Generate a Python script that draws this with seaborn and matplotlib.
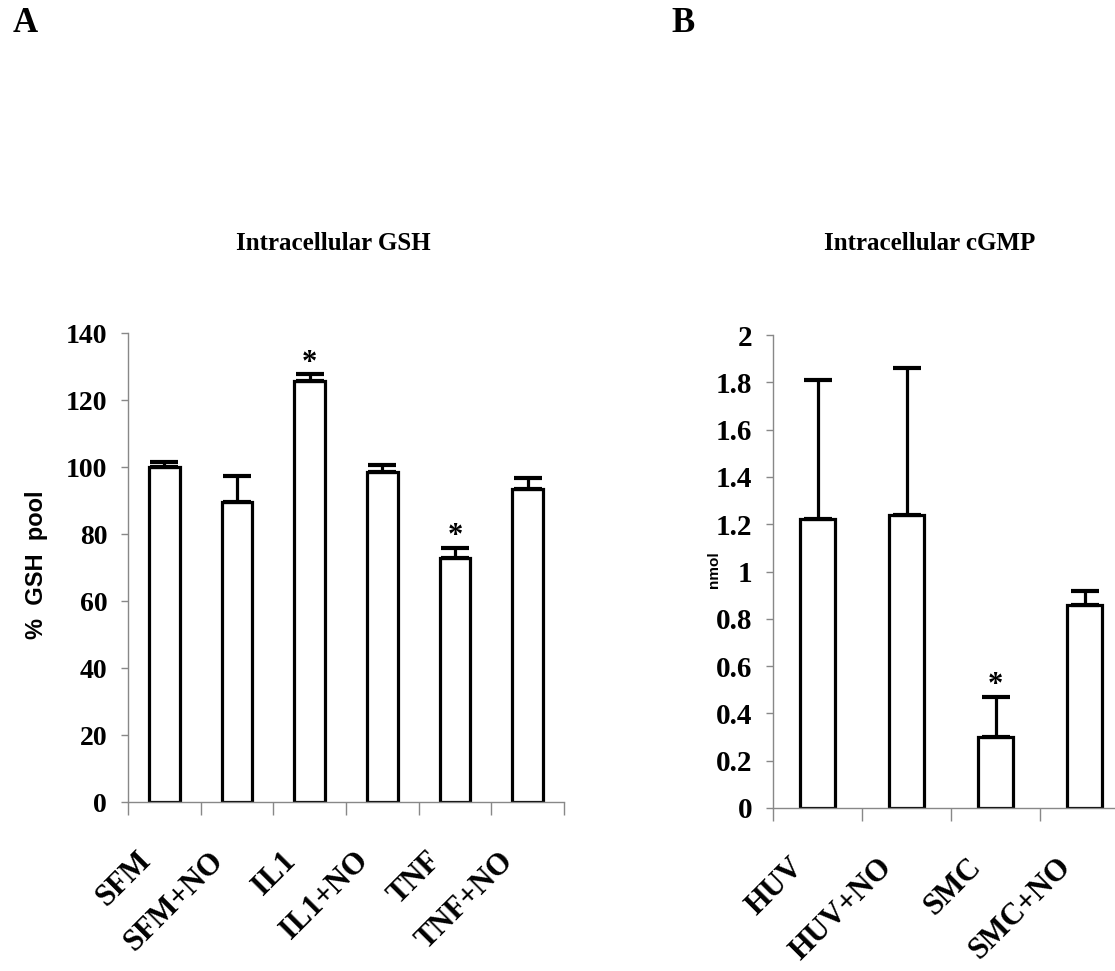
import matplotlib
matplotlib.use("Agg")
import matplotlib.pyplot as plt
import matplotlib.transforms as mtransforms
import seaborn as sns
import numpy as np
import pandas as pd

# ---- data ----
gsh_categories = ["SFM", "SFM+NO", "IL1", "IL1+NO", "TNF", "TNF+NO"]
gsh_values = [100.0, 89.5, 125.7, 98.5, 72.7, 93.3]
gsh_errors = [1.5, 7.8, 2.0, 2.0, 3.2, 3.4]
gsh_significant = [False, False, True, False, True, False]
gsh_yticks = [0, 20, 40, 60, 80, 100, 120, 140]

cgmp_categories = ["HUV", "HUV+NO", "SMC", "SMC+NO"]
cgmp_values = [1.22, 1.24, 0.30, 0.86]
cgmp_errors = [0.59, 0.62, 0.17, 0.056]
cgmp_significant = [False, False, True, False]
cgmp_yticks = [0, 0.2, 0.4, 0.6, 0.8, 1, 1.2, 1.4, 1.6, 1.8, 2]
cgmp_yticklabels = ["0", "0.2", "0.4", "0.6", "0.8", "1", "1.2", "1.4", "1.6", "1.8", "2"]

sns.set_theme(style="white")
plt.rcParams["font.family"] = ["Liberation Serif", "DejaVu Serif"]
plt.rcParams["text.color"] = "black"
plt.rcParams["xtick.labelcolor"] = "black"
plt.rcParams["ytick.labelcolor"] = "black"

W, H = 1115, 971
fig = plt.figure(figsize=(W / 100, H / 100), dpi=100)

def frac_box(left, right, top, bottom):
    return [left / W, 1 - bottom / H, (right - left) / W, (bottom - top) / H]

axA = fig.add_axes(frac_box(128, 564, 333, 802))
axB = fig.add_axes(frac_box(773, 1129, 335, 808))

serif_bold = dict(family=["Liberation Serif", "DejaVu Serif"], weight="bold", color="black")
sans_bold = dict(family=["Liberation Sans", "DejaVu Sans"], weight="bold", color="black")

def draw_panel(ax, cats, vals, errs, sig, width, yticks, yticklabels, ylim, yfs):
    df = pd.DataFrame({"cat": cats, "val": vals})
    sns.barplot(data=df, x="cat", y="val", color="white", edgecolor="black",
                linewidth=2.3, width=width, ax=ax, saturation=1)
    xs = np.arange(len(cats))
    ax.errorbar(xs, vals, yerr=[np.zeros(len(errs)), errs], fmt="none",
                ecolor="black", elinewidth=2.3, capsize=10, capthick=3, zorder=3)
    for x, v, e, s in zip(xs, vals, errs, sig):
        if s:
            ax.annotate("*", xy=(x, v + e), xytext=(0, 8), textcoords="offset points",
                        ha="center", va="center", fontsize=22, **serif_bold)
    ax.set_xlim(-0.5, len(cats) - 0.5)
    ax.set_ylim(*ylim)
    ax.set_yticks(yticks)
    ax.set_yticklabels(yticklabels, fontsize=yfs, **serif_bold)
    ax.set_xticks(np.arange(len(cats) + 1) - 0.5)
    ax.set_xticklabels([])
    ax.set_xticks(xs, minor=True)
    ax.set_xticklabels(cats, minor=True, rotation=45, ha="right", va="top",
                       fontsize=22, **serif_bold)
    ax.tick_params(axis="x", which="major", direction="out", length=9, width=1,
                   color="#888888", bottom=True)
    ax.tick_params(axis="x", which="minor", length=0, pad=32)
    ax.tick_params(axis="y", direction="out", length=5, width=1, color="#888888",
                   left=True, pad=10)
    ax.set_xlabel("")
    ax.set_ylabel("")
    for side in ["top", "right"]:
        ax.spines[side].set_visible(False)
    for side in ["left", "bottom"]:
        ax.spines[side].set_color("#888888")
        ax.spines[side].set_linewidth(1)
    ax.grid(False)
    ax.set_facecolor("white")

draw_panel(axA, gsh_categories, gsh_values, gsh_errors, gsh_significant, 0.42,
           gsh_yticks, [str(t) for t in gsh_yticks], (0, 140), 20)
draw_panel(axB, cgmp_categories, cgmp_values, cgmp_errors, cgmp_significant, 0.39,
           cgmp_yticks, cgmp_yticklabels, (0, 2), 21)

# shift category labels slightly left to mimic reference
for ax, dx in [(axA, -8), (axB, -8)]:
    off = mtransforms.ScaledTranslation(dx / 100, 0, fig.dpi_scale_trans)
    for lbl in ax.get_xticklabels(minor=True):
        lbl.set_transform(lbl.get_transform() + off)

# titles
fig.text(333 / W, 1 - 243 / H, "Intracellular GSH", ha="center", va="center",
         fontsize=18, **serif_bold)
fig.text(930 / W, 1 - 243 / H, "Intracellular cGMP", ha="center", va="center",
         fontsize=18, **serif_bold)

# panel letters
fig.text(25 / W, 1 - 23 / H, "A", ha="center", va="center", fontsize=25, **serif_bold)
fig.text(683 / W, 1 - 23 / H, "B", ha="center", va="center", fontsize=25, **serif_bold)

# y labels
fig.text(37 / W, 1 - 565 / H, "%  GSH  pool", ha="center", va="center", rotation=90,
         fontsize=17, **sans_bold)
fig.text(714 / W, 1 - 570 / H, "nmol", ha="center", va="center", rotation=90,
         fontsize=11, **sans_bold)

fig.savefig("out.png", dpi=100, facecolor="white")
